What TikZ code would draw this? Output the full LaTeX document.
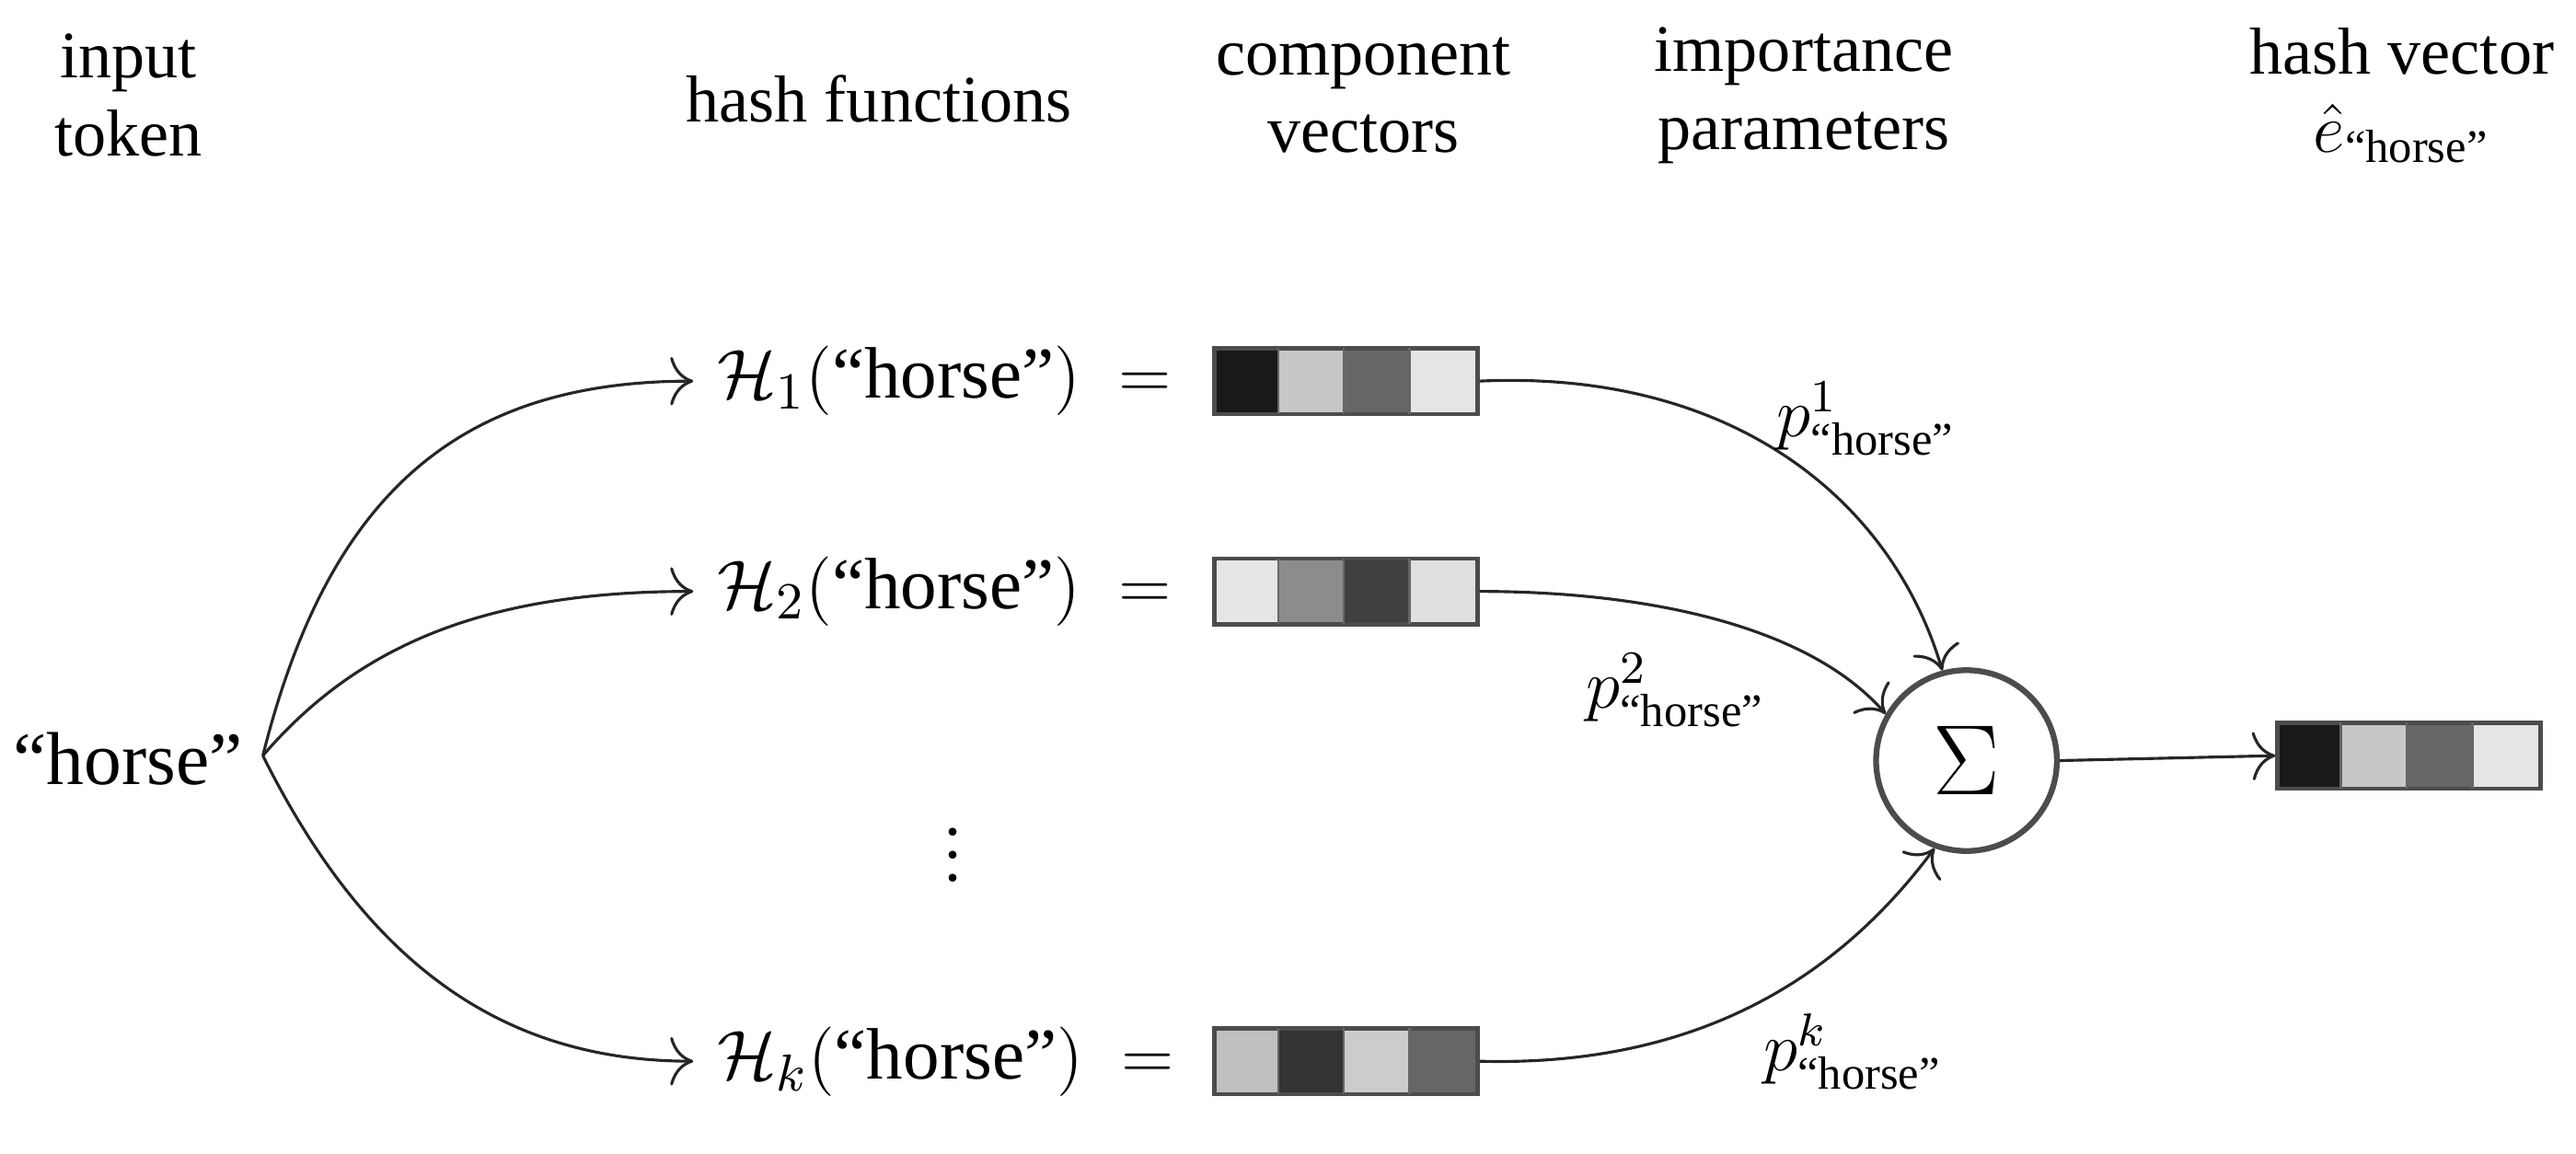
\documentclass[tikz,border=0pt]{standalone}
\usepackage{amsmath}
\usepackage{fontspec}
\setmainfont{Liberation Serif}
\usetikzlibrary{arrows.meta}
\newcommand\myvec[7]{%
  \foreach \c [count=\i from 0] in {#4,#5,#6,#7}{
    \fill[black!\c] (#2+\i*40,#3-20) rectangle ++(40,40);}
  \node[draw=black!70,line width=0.7pt,minimum width=1.6cm,minimum height=0.4cm,inner sep=0,anchor=west] (#1) at (#2,#3) {};
  \foreach \i in {1,2,3} \draw[black!60,line width=0.4pt] (#2+\i*40,#3-20) -- ++(0,40);
}
\begin{document}
\begin{tikzpicture}[x=0.01cm,y=-0.01cm,font=\fontsize{11.5}{13.5}\selectfont,
  arr/.style={-{To[length=4pt]},line width=0.5pt,black!85},
  hd/.style={align=center,inner sep=0},
  hf/.style={inner sep=0,anchor=west,font=\fontsize{12.6}{14}\selectfont}]
\useasboundingbox (0,0) rectangle (1568,702);
\node[hd] (h1) at (78,58) {input\\token};
\node[hd] (h2) at (535,60) {hash functions};
\node[hd] (h3) at (830,58) {component\\vectors};
\node[hd] (h4) at (1098,58) {importance\\parameters};
\node[hd] (h5) at (1462,58) {hash vector\\$\hat{e}_{\text{``horse''}}$};
\node[inner sep=0,font=\fontsize{13}{15}\selectfont] (hs) at (78,462) {``horse''};
\coordinate (src) at (160,460);
\node[hf] (H1) at (436,232) {$\mathcal{H}_1(\text{``horse''})\;=$};
\node[hf] (H2) at (436,360) {$\mathcal{H}_2(\text{``horse''})\;=$};
\node[hf] (Hk) at (436,646) {$\mathcal{H}_k(\text{``horse''})\;=$};
\coordinate (e1) at (422,232);
\coordinate (e2) at (422,360);
\coordinate (ek) at (422,646);
\node (dots) at (580,510) {$\vdots$};
\myvec{v1}{738}{232}{90}{22}{60}{10}
\myvec{v2}{738}{360}{10}{45}{75}{12}
\myvec{vk}{738}{646}{25}{80}{20}{60}
\myvec{vo}{1385}{460}{90}{22}{60}{10}
\node[circle,draw=black!70,line width=1pt,minimum size=1.1cm,inner sep=0] (S) at (1197,463) {\fontsize{16}{16}\selectfont$\Sigma$};
\draw[arr] (src) .. controls (200,300) and (280,232) .. (e1);
\draw[arr] (src) .. controls (220,390) and (300,360) .. (e2);
\draw[arr] (src) .. controls (220,580) and (300,646) .. (ek);
\draw[arr] (v1.east) .. controls (1050,225) and (1150,300) .. (S.105);
\draw[arr] (v2.east) .. controls (1000,360) and (1100,380) .. (S.150);
\draw[arr] (vk.east) .. controls (1050,650) and (1130,580) .. (S.250);
\draw[arr] (S.east) -- (vo.west);
\node (p1) at (1136,255) {$p^{1}_{\text{``horse''}}$};
\node (p2) at (1020,420) {$p^{2}_{\text{``horse''}}$};
\node (pk) at (1128,640) {$p^{k}_{\text{``horse''}}$};
\end{tikzpicture}
\end{document}
